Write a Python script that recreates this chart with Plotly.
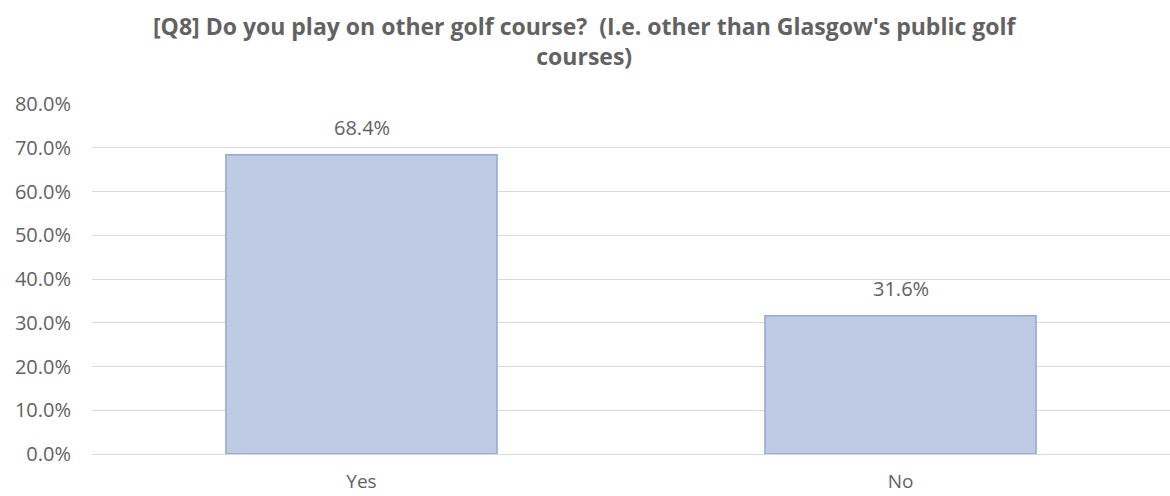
import plotly.graph_objects as go

categories = ["Yes", "No"]
values = [68.4, 31.6]
tick_vals = [0, 10, 20, 30, 40, 50, 60, 70, 80]
tick_text = ["0.0%", "10.0%", "20.0%", "30.0%", "40.0%", "50.0%", "60.0%", "70.0%", "80.0%"]
title_text = ("[Q8] Do you play on other golf course?\u00a0 (I.e. other than Glasgow's public golf"
              "<br>courses)")

grey = "#626262"
font_family = "Open Sans, Liberation Sans, sans-serif"

W, H = 1170, 496
M_L, M_R, M_T, M_B = 92, 0, 104, 42
plot_h = H - M_T - M_B

fig = go.Figure()
fig.add_trace(go.Bar(
    x=categories,
    y=values,
    marker=dict(color="#BFCBE2", line=dict(color="#8FAAD4", width=1.5)),
    width=0.503,
    hoverinfo="skip",
))

for c, v in zip(categories, values):
    fig.add_annotation(
        x=c, y=v, text=f"{v:.1f}%", showarrow=False,
        yanchor="bottom", yshift=12,
        font=dict(family=font_family, size=20, color=grey),
    )

# title as a paper annotation
fig.add_annotation(
    xref="paper", yref="paper",
    x=(W / 2 - M_L) / (W - M_L - M_R), y=1 + (M_T - 8) / plot_h,
    xanchor="center", yanchor="top",
    text=title_text, showarrow=False, align="center",
    font=dict(family=font_family, size=23, color=grey, weight="bold"),
)

fig.update_layout(
    width=W, height=H,
    paper_bgcolor="white", plot_bgcolor="white",
    margin=dict(l=M_L, r=M_R, t=M_T, b=M_B),
    showlegend=False,
    font=dict(family=font_family, color=grey, size=20),
)
fig.update_xaxes(
    showgrid=False, zeroline=False, showline=False,
    tickfont=dict(family=font_family, size=19, color=grey),
    ticklabelstandoff=14,
)
fig.update_yaxes(
    range=[0, 80],
    tickvals=tick_vals, ticktext=tick_text,
    showgrid=True, gridcolor="#D9D9D9", gridwidth=1,
    zeroline=True, zerolinecolor="#D9D9D9", zerolinewidth=1,
    showline=False,
    tickfont=dict(family=font_family, size=20, color=grey),
    ticklabelstandoff=20,
)

fig.write_html("out.html", config={"displayModeBar": False},
               post_script="document.body.style.margin='0';")
